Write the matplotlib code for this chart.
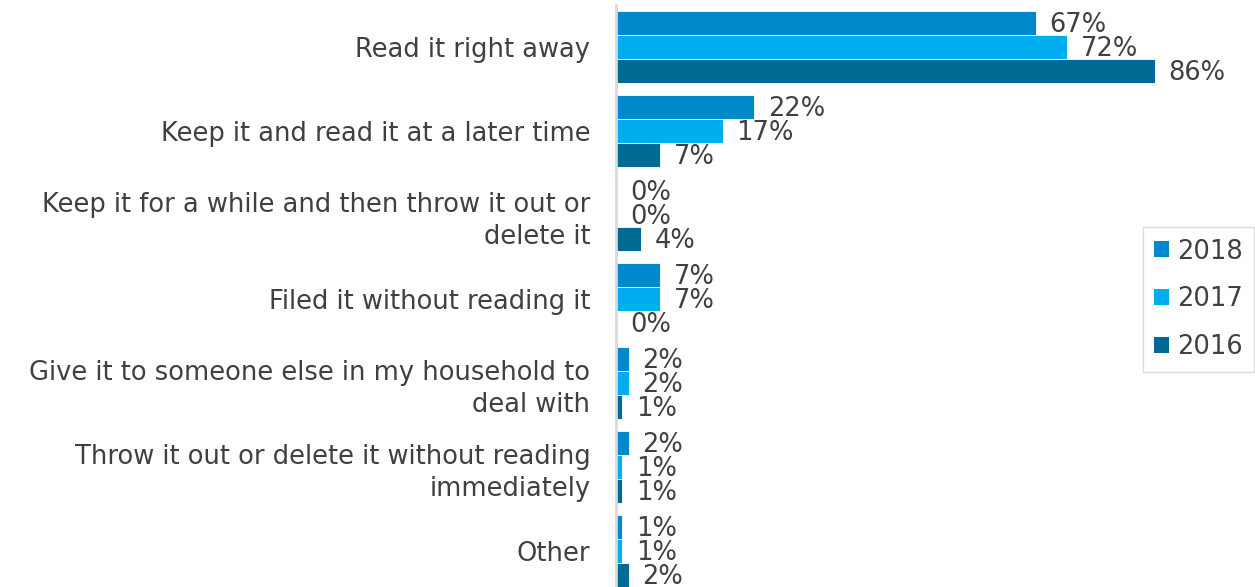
import numpy as np
import matplotlib.pyplot as plt
from matplotlib.patches import Patch

# data
categories = [
    "Read it right away",
    "Keep it and read it at a later time",
    "Keep it for a while and then throw it out or\ndelete it",
    "Filed it without reading it",
    "Give it to someone else in my household to\ndeal with",
    "Throw it out or delete it without reading\nimmediately",
    "Other",
]
years = ["2018", "2017", "2016"]
v2018 = [67, 22, 0, 7, 2, 2, 1]
v2017 = [72, 17, 0, 7, 2, 1, 1]
v2016 = [86, 7, 4, 0, 1, 1, 2]
colors = ["#0088CC", "#00AEEF", "#006A94"]

plt.rcParams['font.family'] = ['DejaVu Sans']
txt = '#404040'
fs = 18.5

fig = plt.figure(figsize=(12.55, 5.87), dpi=100)
ax = fig.add_axes([616 / 1255, 0, 1 - 616 / 1255, 582 / 587])

y = np.arange(len(categories))
h = 0.286
for k, (vals, c) in enumerate(zip([v2018, v2017, v2016], colors)):
    pos = y + (k - 1) * h
    ax.barh(pos, vals, height=h, color=c, edgecolor='white', linewidth=0.6)
    for p, v in zip(pos, vals):
        ax.annotate(f"{v}%", (v, p), xytext=(10, -1.5), textcoords='offset points',
                    va='center', ha='left', fontsize=fs, color=txt)

ax.set_xlim(0, 102)
ax.set_ylim(6.43, -0.5)
ax.set_yticks(y)
ax.set_yticklabels(categories, fontsize=fs, color=txt, linespacing=1.32)
ax.tick_params(axis='y', length=0, pad=18.5)
ax.set_xticks([])
for s in ['top', 'right', 'bottom']:
    ax.spines[s].set_visible(False)
ax.spines['left'].set_color('#D9D9D9')
ax.spines['left'].set_linewidth(2)

handles = [Patch(facecolor=c, edgecolor='none') for c in colors]
leg = fig.legend(handles, years, loc='center', bbox_to_anchor=(0.955, 0.49),
                 fontsize=fs, frameon=True, fancybox=False, edgecolor='#D0D0D0',
                 handlelength=0.58, handleheight=0.58, handletextpad=0.3,
                 labelspacing=0.85, borderpad=0.45, borderaxespad=0)
for t in leg.get_texts():
    t.set_color(txt)

fig.savefig('out.png', dpi=100)
